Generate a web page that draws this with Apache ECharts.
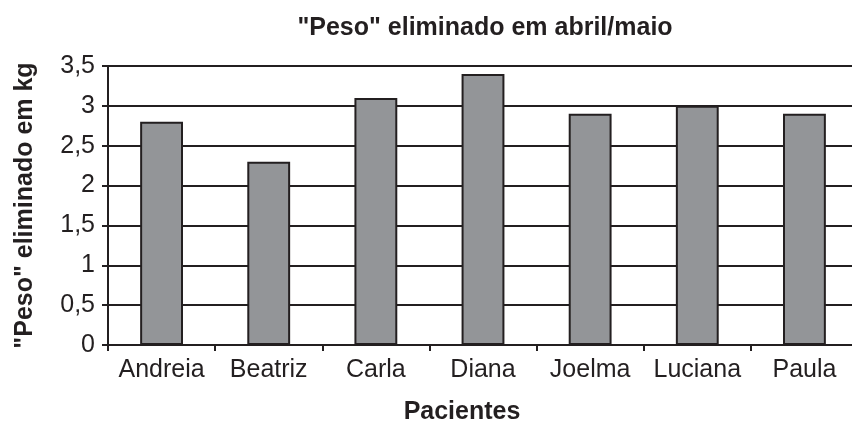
<!DOCTYPE html>
<html>
<head>
<meta charset="utf-8">
<script src="https://cdn.jsdelivr.net/npm/echarts@6/dist/echarts.min.js"></script>
<style>
html,body{margin:0;padding:0;background:#fff;}
#c{width:852px;height:423px;}
</style>
</head>
<body>
<div id="c"></div>
<script>
const categories = ["Andreia", "Beatriz", "Carla", "Diana", "Joelma", "Luciana", "Paula"];
const values = [2.8, 2.3, 3.1, 3.4, 2.9, 3.0, 2.9];
const yTicks = ["0", "0,5", "1", "1,5", "2", "2,5", "3", "3,5"];
const titleText = '"Peso" eliminado em abril/maio';
const yName = '"Peso" eliminado em kg';
const xName = 'Pacientes';

const dark = '#231f20';
const font = '"Liberation Sans", Arial, sans-serif';
const chart = echarts.init(document.getElementById('c'), null, {renderer: 'canvas'});
chart.setOption({
  animation: false,
  backgroundColor: '#fff',
  title: {
    text: titleText,
    left: 480, textAlign: 'center', top: 11,
    textStyle: {fontFamily: font, fontWeight: 'bold', fontSize: 25, color: dark}
  },
  grid: {left: 108, right: -6, top: 66, bottom: 78, containLabel: false, outerBoundsMode: 'none'},
  xAxis: {
    type: 'category',
    data: categories,
    name: xName,
    nameLocation: 'middle',
    nameGap: 55,
    nameTextStyle: {fontFamily: font, fontWeight: 'bold', fontSize: 25, color: dark, padding: [0, 42, 0, 0]},
    axisLine: {lineStyle: {color: dark, width: 2}},
    axisTick: {show: true, length: 6, lineStyle: {color: dark, width: 2}},
    axisLabel: {fontFamily: font, fontSize: 25, color: dark, margin: 13, interval: 0, hideOverlap: false}
  },
  yAxis: {
    type: 'value',
    min: 0, max: 3.5, interval: 0.5,
    name: yName,
    nameLocation: 'middle',
    nameGap: 70,
    nameRotate: 90,
    nameTextStyle: {fontFamily: font, fontWeight: 'bold', fontSize: 25, color: dark},
    axisLine: {show: true, lineStyle: {color: dark, width: 2}},
    axisTick: {show: true, length: 6, lineStyle: {color: dark, width: 2}},
    axisLabel: {
      fontFamily: font, fontSize: 25, color: dark, margin: 13,
      formatter: function (v) { return yTicks[Math.round(v / 0.5)]; }
    },
    splitLine: {show: true, lineStyle: {color: dark, width: 2}}
  },
  series: [{
    type: 'bar',
    data: values,
    barWidth: '40%',
    itemStyle: {color: '#939598', borderColor: dark, borderWidth: 2}
  }]
});
</script>
</body>
</html>
